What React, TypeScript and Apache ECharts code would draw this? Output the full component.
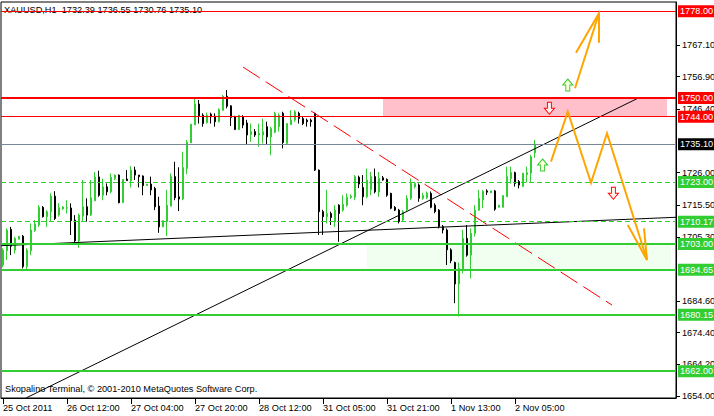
import React, { useEffect, useRef } from 'react';
import * as echarts from 'echarts';

// ---- Candle data (H1 bars, index 0 = 25 Oct 2011 20:00) ----
const opens = [
  1696.2, 1700.8, 1707.7, 1701.0, 1704.5, 1705.5, 1695.7, 1700.8, 1707.3, 1709.1,
  1714.8, 1711.8, 1713.4, 1718.4, 1712.3, 1714.3, 1714.5, 1714.6, 1710.7, 1704.0,
  1712.0, 1715.0, 1712.3, 1716.9, 1724.6, 1718.7, 1721.4, 1719.8, 1724.1, 1725.2,
  1716.3, 1723.9, 1723.4, 1726.8, 1725.2, 1724.9, 1721.8, 1722.3, 1720.9, 1715.2,
  1708.5, 1710.2, 1715.2, 1724.7, 1718.2, 1717.5, 1727.3, 1735.6, 1741.4, 1748.1,
  1744.5, 1742.1, 1744.8, 1744.2, 1742.4, 1746.1, 1750.6, 1747.5, 1744.0, 1739.9,
  1744.0, 1742.0, 1738.3, 1739.2, 1738.1, 1738.1, 1740.8, 1737.5, 1739.0, 1740.8,
  1745.1, 1735.4, 1741.5, 1742.9, 1745.1, 1743.4, 1742.9, 1742.9, 1745.1, 1726.8,
  1713.4, 1711.8, 1712.8, 1710.2, 1715.5, 1713.9, 1715.5, 1718.0, 1718.0, 1724.5,
  1721.2, 1718.2, 1720.5, 1724.7, 1719.8, 1724.3, 1723.8, 1719.3, 1714.8, 1713.9,
  1710.7, 1714.0, 1717.7, 1721.4, 1722.0, 1717.7, 1717.9, 1719.3, 1715.5, 1713.9,
  1708.6, 1707.5, 1701.1, 1697.0, 1690.1, 1694.6, 1704.8, 1699.4, 1706.4, 1713.9,
  1717.2, 1720.1, 1719.5, 1720.1, 1714.8, 1714.8, 1718.2, 1724.1, 1726.0, 1723.1,
  1721.5, 1725.4, 1725.8, 1732.39
];
const closes = [
  1701.0, 1707.5, 1702.3, 1704.8, 1705.5, 1695.7, 1701.0, 1707.5, 1709.4, 1714.8,
  1711.8, 1713.4, 1718.4, 1711.2, 1714.7, 1714.9, 1714.7, 1710.5, 1704.0, 1712.3,
  1715.0, 1712.3, 1717.9, 1724.6, 1718.7, 1721.4, 1719.8, 1724.4, 1725.2, 1716.3,
  1723.8, 1723.4, 1726.8, 1725.2, 1724.7, 1721.8, 1722.3, 1720.4, 1715.0, 1708.5,
  1710.5, 1715.5, 1724.7, 1717.9, 1717.5, 1727.6, 1735.8, 1741.6, 1748.1, 1744.3,
  1741.8, 1744.5, 1744.0, 1742.4, 1746.3, 1750.6, 1747.4, 1743.8, 1739.9, 1744.5,
  1741.3, 1738.1, 1739.2, 1738.1, 1738.6, 1739.2, 1737.5, 1740.2, 1745.1, 1744.5,
  1735.7, 1741.8, 1742.9, 1745.6, 1743.4, 1741.8, 1742.4, 1742.4, 1726.8, 1713.4,
  1711.8, 1712.8, 1711.5, 1713.9, 1712.8, 1715.8, 1718.0, 1718.4, 1724.7, 1722.3,
  1718.2, 1723.6, 1724.7, 1719.8, 1724.1, 1723.6, 1718.7, 1714.5, 1713.9, 1710.2,
  1713.4, 1717.7, 1722.5, 1722.5, 1717.7, 1718.6, 1719.4, 1714.8, 1713.4, 1708.6,
  1707.5, 1701.1, 1697.6, 1690.1, 1695.1, 1704.8, 1699.4, 1706.4, 1713.9, 1717.7,
  1719.9, 1719.7, 1720.1, 1714.2, 1715.5, 1718.6, 1724.7, 1726.0, 1722.5, 1722.0,
  1725.8, 1726.0, 1731.1, 1735.10
];
const lows = [
  1695.5, 1697.8, 1699.4, 1699.9, 1704.5, 1695.1, 1694.8, 1699.4, 1706.9, 1708.5,
  1711.5, 1708.5, 1710.2, 1710.7, 1711.8, 1714.0, 1712.8, 1705.9, 1703.2, 1701.8,
  1710.2, 1710.2, 1712.0, 1716.9, 1718.2, 1717.1, 1718.7, 1719.3, 1723.6, 1716.1,
  1716.3, 1723.4, 1721.2, 1723.6, 1721.2, 1718.7, 1721.8, 1718.7, 1713.9, 1706.6,
  1708.5, 1705.6, 1715.2, 1717.1, 1713.6, 1717.1, 1725.5, 1735.6, 1741.3, 1741.8,
  1740.8, 1741.8, 1741.8, 1740.8, 1742.2, 1745.9, 1746.7, 1741.0, 1739.7, 1739.9,
  1740.3, 1734.9, 1735.9, 1737.5, 1734.3, 1735.4, 1734.9, 1731.6, 1738.7, 1739.2,
  1733.8, 1735.4, 1741.3, 1742.4, 1741.8, 1741.3, 1740.8, 1740.8, 1726.5, 1705.9,
  1705.9, 1709.6, 1709.1, 1708.5, 1703.7, 1713.4, 1715.0, 1717.5, 1717.1, 1721.0,
  1715.5, 1717.7, 1718.7, 1719.3, 1718.2, 1723.4, 1718.2, 1714.2, 1713.6, 1709.6,
  1710.2, 1713.4, 1717.1, 1720.9, 1716.6, 1717.2, 1717.5, 1714.5, 1712.9, 1708.0,
  1706.4, 1696.2, 1696.8, 1683.9, 1679.6, 1693.5, 1698.9, 1691.9, 1705.4, 1713.7,
  1714.5, 1718.8, 1719.5, 1713.7, 1714.8, 1714.8, 1718.2, 1722.5, 1721.5, 1720.9,
  1721.5, 1722.8, 1722.8, 1730.76
];
const highs = [
  1701.6, 1708.0, 1708.5, 1705.3, 1705.5, 1705.9, 1701.6, 1709.6, 1710.7, 1715.5,
  1715.2, 1713.9, 1719.3, 1720.0, 1716.1, 1715.2, 1717.1, 1716.1, 1712.3, 1712.8,
  1723.6, 1717.7, 1723.6, 1726.2, 1726.6, 1724.1, 1722.5, 1725.7, 1725.4, 1725.4,
  1723.8, 1726.8, 1728.1, 1727.9, 1725.2, 1725.1, 1722.3, 1724.7, 1721.4, 1718.2,
  1710.5, 1720.4, 1725.7, 1729.5, 1727.7, 1732.7, 1736.5, 1741.6, 1749.7, 1749.4,
  1745.1, 1745.3, 1745.3, 1745.1, 1746.7, 1751.0, 1752.6, 1747.7, 1744.3, 1744.5,
  1744.5, 1743.0, 1741.8, 1740.0, 1741.8, 1743.4, 1742.4, 1740.8, 1745.6, 1745.1,
  1745.6, 1742.0, 1746.1, 1746.1, 1745.6, 1744.0, 1743.4, 1743.4, 1745.3, 1727.0,
  1714.0, 1720.4, 1713.4, 1715.5, 1715.8, 1718.7, 1719.3, 1719.0, 1725.2, 1725.0,
  1725.2, 1727.3, 1726.2, 1727.3, 1726.2, 1724.9, 1724.1, 1719.5, 1715.2, 1714.3,
  1713.9, 1718.7, 1724.1, 1723.0, 1722.5, 1719.5, 1719.9, 1719.9, 1716.1, 1714.2,
  1709.1, 1708.0, 1701.6, 1697.3, 1697.0, 1707.5, 1709.1, 1708.0, 1715.5, 1720.4,
  1720.4, 1720.6, 1720.1, 1720.4, 1715.5, 1718.6, 1727.9, 1727.9, 1726.3, 1723.6,
  1725.8, 1727.9, 1731.7, 1736.55
];

// ---- Axis ticks ----
const xTickIndex = [0, 16, 32, 48, 64, 80, 96, 112, 128];
const xTickLabels = ['25 Oct 2011', '26 Oct 12:00', '27 Oct 04:00', '27 Oct 20:00', '28 Oct 12:00', '31 Oct 05:00', '31 Oct 21:00', '1 Nov 13:00', '2 Nov 05:00'];
const yTickValues = [1654.0, 1664.2, 1674.4, 1684.6, 1705.3, 1715.5, 1726.0, 1746.4, 1756.9, 1767.1];

// ---- Horizontal levels ----
const levelPrices = [1778.0, 1750.0, 1744.0, 1735.1, 1723.0, 1710.17, 1703.0, 1694.65, 1680.15, 1662.0];
const levelKinds = ['res', 'resMain', 'res', 'price', 'supDash', 'supDash', 'sup', 'sup', 'sup', 'sup'];

// ---- Zones [barIndex, price] corners ----
const resistZone = [[95, 1744.0], [166, 1750.0]];
const supportZone = [[91, 1694.65], [167, 1703.0]];

// ---- Trendlines [barIndex, price] ----
const redDownLine = [[60, 1760.0], [152.25, 1683.3]];
const blackUpLine = [[5.8, 1653.4], [158.8, 1750.0]];
const blackFlatLine = [[-0.5, 1702.44], [168.25, 1711.6]];

// ---- Projection arrows ----
const upPath = [[143, 1753.16], [149, 1777.33]];
const upHead = [[143.25, 1764.64], [149, 1777.33], [149, 1767.86]];
const zigPath = [[137, 1729.51], [141.2, 1745.62], [147, 1722.74], [151, 1738.66], [161, 1697.83]];
const zigHead = [[156.2, 1709.11], [161, 1697.83], [160.25, 1708.04]];

// ---- Small signal arrows ----
const buyArrows = [[134.9, 1728.44], [141.2, 1754.22]];
const sellArrows = [[136.6, 1746.72], [152.6, 1719.32]];

const symbolName = 'XAUUSD,H1';
const copyright = 'Skopalino Terminal, \u00a9 2001-2010 MetaQuotes Software Corp.';

const FONT = 'Liberation Sans, Arial, sans-serif';
const GREEN = '#32cd32';
const RED = '#ff0000';

function levelStyle(kind: string) {
  switch (kind) {
    case 'resMain': return { line: { color: RED, width: 2, type: 'solid' }, bg: RED };
    case 'res': return { line: { color: RED, width: 1, type: 'solid' }, bg: RED };
    case 'price': return { line: { color: '#778899', width: 1, type: 'solid' }, bg: '#000000' };
    case 'supDash': return { line: { color: GREEN, width: 1, type: [5, 3] }, bg: GREEN };
    default: return { line: { color: GREEN, width: 2, type: 'solid' }, bg: GREEN };
  }
}

export default function App() {
  const ref = useRef<HTMLDivElement>(null);
  useEffect(() => {
    if (!ref.current) return;
    const chart = echarts.init(ref.current, undefined, { renderer: 'svg' });
    const n = opens.length;
    const candleData = opens.map((o, i) => [i, o, closes[i], lows[i], highs[i]]);
    const last = n - 1;
    const title = `${symbolName}  ${opens[last].toFixed(2)} ${highs[last].toFixed(2)} ${lows[last].toFixed(2)} ${closes[last].toFixed(2)}`;

    const option: any = {
      animation: false,
      backgroundColor: '#ffffff',
      textStyle: { fontFamily: FONT },
      grid: {
        left: 1, right: 38, top: 2, bottom: 18, show: true, borderColor: '#000', borderWidth: 1,
        containLabel: false, outerBoundsMode: 'none',
      },
      xAxis: {
        type: 'value', min: -0.5, max: 168.25,
        splitLine: { show: false },
        axisLine: { show: true, onZero: false, lineStyle: { color: '#000', width: 1 } },
        axisTick: { show: true, customValues: xTickIndex, length: 6, lineStyle: { color: '#000' } },
        axisLabel: {
          customValues: xTickIndex,
          formatter: (v: number) => { const k = xTickIndex.indexOf(Math.round(v)); return k >= 0 ? xTickLabels[k] : ''; },
          align: 'left', margin: 5, fontSize: 9.2, color: '#000', fontFamily: FONT,
        },
      },
      yAxis: {
        type: 'value', position: 'right', min: 1653.36, max: 1780.97,
        splitLine: { show: false },
        axisLine: { show: true, onZero: false, lineStyle: { color: '#000', width: 1 } },
        axisTick: { show: true, customValues: yTickValues, length: 4, lineStyle: { color: '#000' } },
        axisLabel: {
          customValues: yTickValues,
          formatter: (v: number) => v.toFixed(2),
          margin: 6, fontSize: 9.2, color: '#000', fontFamily: FONT,
        },
      },
      graphic: [
        { type: 'text', left: 4, top: 5, z: 0, style: { text: title, fontSize: 9.2, fontFamily: FONT, fill: '#000' } },
        { type: 'text', left: 5, top: 384, z: 100, style: { text: copyright, fontSize: 9.2, fontFamily: FONT, fill: '#000' } },
      ],
      series: [
        {
          type: 'line', data: [], z: 1, silent: true,
          markArea: {
            silent: true,
            data: [
              [{ coord: resistZone[0], itemStyle: { color: '#ffc0cb' } }, { coord: resistZone[1] }],
              [{ coord: supportZone[0], itemStyle: { color: '#f0fff0' } }, { coord: supportZone[1] }],
            ],
          },
        },
        {
          type: 'line', data: [], z: 2, silent: true,
          markLine: {
            silent: true, symbol: ['none', 'none'],
            data: levelPrices.map((p, k) => {
              const st = levelStyle(levelKinds[k]);
              return {
                yAxis: p,
                lineStyle: st.line,
                label: {
                  show: true, position: 'end', distance: 2,
                  formatter: () => p.toFixed(2),
                  color: '#fff', backgroundColor: st.bg, fontSize: 9.2, fontFamily: FONT,
                  lineHeight: 11, padding: [1, 4, 0, 2],
                },
              };
            }),
          },
        },
        {
          type: 'candlestick', data: candleData, z: 3, barWidth: 2, silent: true,
          itemStyle: { color: GREEN, color0: '#000', borderColor: GREEN, borderColor0: '#000', borderWidth: 1 },
        },
        {
          type: 'lines', coordinateSystem: 'cartesian2d', polyline: true, z: 4, silent: true,
          data: [
            { coords: redDownLine, lineStyle: { color: RED, width: 1, type: [20, 7], opacity: 1 } },
            { coords: blackUpLine, lineStyle: { color: '#000', width: 1, opacity: 1 } },
            { coords: blackFlatLine, lineStyle: { color: '#000', width: 1, opacity: 1 } },
          ],
        },
        {
          type: 'lines', coordinateSystem: 'cartesian2d', polyline: true, z: 5, silent: true,
          lineStyle: { color: '#ffa500', width: 2, opacity: 1 },
          data: [{ coords: upPath }, { coords: upHead }, { coords: zigPath }, { coords: zigHead }],
        },
        {
          type: 'scatter', data: buyArrows, z: 6, silent: true,
          symbol: 'path://M5,0L10,6L7,6L7,12L3,12L3,6L0,6Z', symbolSize: [10, 12],
          itemStyle: { color: '#ffffd8', borderColor: GREEN, borderWidth: 1, opacity: 1 },
        },
        {
          type: 'scatter', data: sellArrows, z: 6, silent: true,
          symbol: 'path://M3,0L7,0L7,6L10,6L5,12L0,6L3,6Z', symbolSize: [10, 12],
          itemStyle: { color: '#fff0f0', borderColor: RED, borderWidth: 1, opacity: 1 },
        },
      ],
    };
    chart.setOption(option);
    return () => chart.dispose();
  }, []);
  return (
    <div ref={ref} style={{ position: 'fixed', left: 0, top: 0, width: 714, height: 416, background: '#fff' }} />
  );
}
